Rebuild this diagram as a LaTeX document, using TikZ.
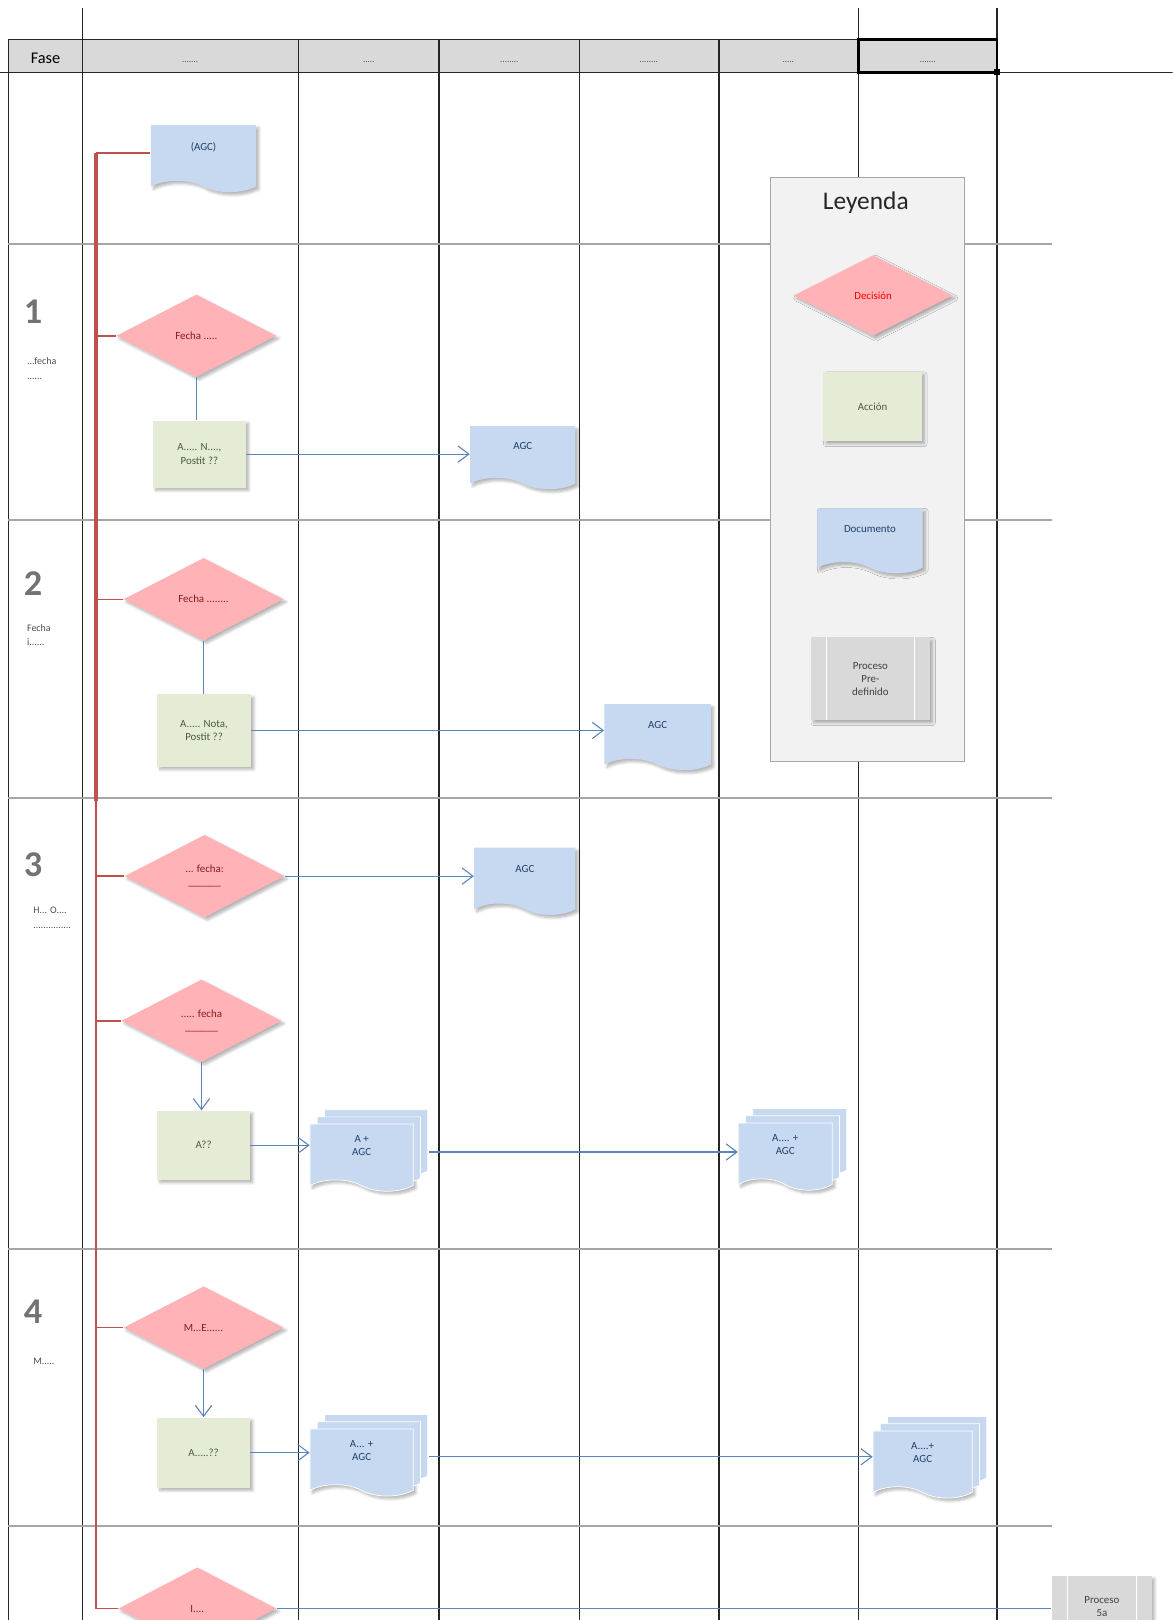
\documentclass[tikz,border=0pt]{standalone}
\usepackage{fontspec}
\setmainfont{Carlito}
\usepackage{tikz}
\usetikzlibrary{shapes.geometric, shapes.symbols, arrows.meta, shadows, shadows.blur, positioning, calc}
\tikzstyle{arrow} = [draw=flowblue, line width=0.6pt, -{Straight Barb[length=6pt, width=9pt]}]

\definecolor{headgray}{HTML}{D9D9D9}
\definecolor{rowgray}{HTML}{A6A6A6}
\definecolor{decfill}{HTML}{FFB3B7}
\definecolor{dectext}{HTML}{8B1A1A}
\definecolor{actfill}{HTML}{E4ECD6}
\definecolor{acttext}{HTML}{4F5A3A}
\definecolor{docfill}{HTML}{C6D9F0}
\definecolor{doctext}{HTML}{1F3F6A}
\definecolor{prefill}{HTML}{D9D9D9}
\definecolor{flowblue}{HTML}{5B84BC}
\definecolor{busred}{HTML}{C0504D}
\definecolor{legfill}{HTML}{F2F2F2}

\begin{document}
\begin{tikzpicture}[
  x=0.02cm, y=-0.02cm,
  every node/.style={font=\fontsize{6}{7.2}\selectfont, align=center},
  softshadow/.style={blur shadow={shadow xshift=1.5pt, shadow yshift=-1.5pt, shadow blur steps=6, shadow blur radius=1.5pt, shadow opacity=30}},
  decision/.style={diamond, fill=decfill, text=dectext, minimum width=3.1cm, minimum height=1.6cm, inner sep=0pt, softshadow},
  action/.style={rectangle, fill=actfill, text=acttext, minimum width=1.8cm, minimum height=1.34cm, softshadow},
  document/.style={tape, tape bend top=none, tape bend bottom=out and in, tape bend height=0.22cm, fill=docfill, text=doctext, minimum width=2.04cm, minimum height=1.3cm, text depth=0.25cm, softshadow},
  multidoc/.style={document, draw=white, double copy shadow={shadow xshift=0.14cm, shadow yshift=0.14cm}},
  predef/.style={rectangle, fill=prefill, text=black!75, minimum width=2.3cm, minimum height=1.6cm, softshadow,
    path picture={\draw[white, line width=0.8pt]
      ([xshift=0.3cm]path picture bounding box.north west) -- ([xshift=0.3cm]path picture bounding box.south west)
      ([xshift=-0.3cm]path picture bounding box.north east) -- ([xshift=-0.3cm]path picture bounding box.south east);}},
  legendbox/.style={rectangle, fill=legfill, draw=rowgray, minimum width=3.74cm, minimum height=11.3cm},
  headdots/.style={font=\fontsize{5}{6}\selectfont, text=black!70},
  rownum/.style={font=\bfseries\fontsize{20}{22}\selectfont, text=black!55, anchor=west},
  rownote/.style={font=\fontsize{5.5}{8}\selectfont, text=black!70, anchor=north west, align=left},
  lane/.style={draw=black!85, line width=0.75pt},
  phase/.style={draw=rowgray, line width=1pt},
  link/.style={draw=flowblue, line width=0.6pt},
  busthick/.style={draw=busred, line width=2pt},
  busthin/.style={draw=busred, line width=0.8pt}
]
\useasboundingbox (0,0) rectangle (1135,1568);
\clip (0,0) rectangle (1135,1568);

% Swimlanes and phases
\fill[headgray] (8,38) rectangle (965,70);
\foreach \cx in {289,425,561,696} \draw[lane] (\cx,38) -- (\cx,1568);
\foreach \cx in {80,831,965} \draw[lane] (\cx,8) -- (\cx,1568);
\draw[lane] (8,38) -- (8,1568);
\draw[lane] (8,38) -- (965,38);
\draw[lane] (0,70) -- (1135,70);
\foreach \ry in {236,503,772,1209,1477} \draw[phase] (8,\ry) -- (1018,\ry);
\draw[line width=1.4pt] (831,38) rectangle (965,70);
\fill (962,67) rectangle (968,73);

% Header
\node[font=\fontsize{9}{10}\selectfont] (hfase) at (44,56) {Fase};
\node[headdots] (h1) at (184,60) {.......};
\node[headdots] (h2) at (357,60) {.....};
\node[headdots] (h3) at (493,60) {........};
\node[headdots] (h4) at (628,60) {........};
\node[headdots] (h5) at (763,60) {.....};
\node[headdots] (h6) at (898,60) {.......};

% Phase labels
\node[rownum] (p1) at (17,302) {1};
\node[rownote] (p1t) at (20,340) {...fecha\\......};
\node[rownum] (p2) at (17,565) {2};
\node[rownote] (p2t) at (20,598) {Fecha\\i......};
\node[rownum] (p3) at (17,837) {3};
\node[rownote] (p3t) at (26,872) {H... O....\\...............};
\node[rownum] (p4) at (17,1270) {4};
\node[rownote] (p4t) at (26,1308) {M.....};

% Legend
\node[legendbox] (legend) at (839.5,454.5) {};
\node[font=\fontsize{14}{16}\selectfont, text=black!85] (legtitle) at (838,196) {Leyenda};
\node[decision, minimum width=3.08cm, minimum height=1.56cm, text=red] (lgdec) at (845,286) {Decisión};
\node[action, minimum width=1.9cm] (lgact) at (844.5,393.5) {Acción};
\node[document, minimum height=1.26cm] (lgdoc) at (842,518) {Documento};
\node[predef] (lgpre) at (842.5,657) {Proceso\\Pre-\\definido};

% Flow
\node[document] (doc0) at (197,148) {(AGC)};
\node[decision] (d1) at (190,325) {Fecha .....};
\node[action, minimum height=1.3cm] (a1) at (193,439.5) {A..... N....,\\Postit ??};
\node[document, minimum height=1.22cm] (doc1) at (506,437.5) {AGC};
\node[decision] (d2) at (197,580) {Fecha ........};
\node[action, minimum width=1.82cm, minimum height=1.4cm] (a2) at (197.5,707) {A..... Nota,\\Postit ??};
\node[document, minimum width=2.06cm, minimum height=1.28cm] (doc2) at (636.5,708) {AGC};
\node[decision] (d3a) at (198,848) {... fecha:\\\_\_\_\_\_\_};
\node[document, minimum width=1.96cm] (doc3) at (508,847.5) {AGC};
\node[decision] (d3b) at (195,988) {..... fecha\\\_\_\_\_\_\_};
\node[action] (a3) at (197,1108.5) {A??};
\node[multidoc, minimum width=2cm] (md1) at (350,1115) {A +\\AGC};
\node[multidoc, minimum width=1.82cm] (md2) at (760,1114) {A.... +\\AGC};
\node[decision] (d4) at (197,1285) {M...E......};
\node[action, minimum height=1.36cm] (a4) at (197,1406) {A.....??};
\node[multidoc, minimum width=2cm] (md3) at (350,1410) {A... +\\AGC};
\node[multidoc, minimum width=1.92cm] (md4) at (893,1412) {A....+\\AGC};
\node[decision, minimum width=3.06cm] (d5) at (191,1557) {I....};
\node[predef, minimum width=1.94cm, anchor=north, text depth=0.4cm] (pre5) at (1066.5,1525) {Proceso\\5a};

% Red bus
\coordinate (bustop) at (93,150);
\coordinate (busmid) at (93,775);
\coordinate (busend) at (93,1557);
\draw[busthick] (doc0.west -| bustop) -- (busmid);
\draw[busthin] (busmid) -- (d5.west -| busend) -- (d5.west);
\draw[busthin] (doc0.west -| bustop) -- (doc0.west);
\foreach \d in {d1,d2,d3a,d3b,d4} \draw[busthin] (\d.west -| bustop) -- (\d.west);

% Connectors
\draw[link] (d1.south) -- (d1.south |- a1.north);
\draw[arrow] (a1.east) -- (a1.east -| doc1.west);
\draw[link] (d2.south) -- (d2.south |- a2.north);
\draw[arrow] (a2.east) -- (a2.east -| doc2.west);
\draw[arrow] (d3a.east) -- (d3a.east -| doc3.west);
\draw[arrow] (d3b.south) -- (d3b.south |- a3.north);
\draw[arrow] (a3.east) -- (a3.east -| md1.west);
\draw[arrow, shorten <=0.3cm] (md1.east) -- (md1.east -| md2.west);
\draw[arrow] (d4.south) -- (d4.south |- a4.north);
\draw[arrow] (a4.east) -- (a4.east -| md3.west);
\draw[arrow, shorten <=0.3cm] (md3.east) -- (md3.east -| md4.west);
\draw[link] (d5.east) -- (d5.east -| pre5.west);

\end{tikzpicture}
\end{document}
